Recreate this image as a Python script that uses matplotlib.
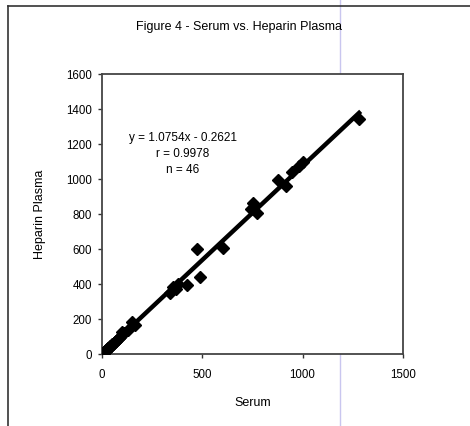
import matplotlib
matplotlib.use("Agg")
import matplotlib.pyplot as plt
from matplotlib.lines import Line2D
import numpy as np

plt.rcParams["font.family"] = ["Liberation Sans", "DejaVu Sans"]

# Serum vs heparin plasma values
serum = [0, 3, 5, 8, 10, 12, 15, 18, 20, 25, 28, 32, 35, 40, 45, 50,
         55, 60, 65, 70, 80, 90, 98, 110, 130, 148, 163,
         339, 355, 370, 380, 422, 472, 488, 605,
         744, 754, 771, 879, 917, 950, 983, 1003, 1282, 30, 85]
plasma = [0, 4, 6, 8, 12, 14, 16, 20, 22, 27, 30, 35, 37, 43, 48, 55,
          60, 64, 70, 76, 85, 97, 128, 118, 140, 185, 165,
          347, 385, 370, 400, 394, 598, 442, 604,
          830, 861, 804, 994, 960, 1040, 1074, 1099, 1341, 32, 90]
slope, intercept = 1.0754, -0.2621

fig = plt.figure(figsize=(4.7, 4.26), dpi=100)
ax = fig.add_axes([0.217, 0.169, 0.640, 0.657])

ax.plot(serum, plasma, linestyle="none", marker="D", markersize=6.5,
        color="black", zorder=3)
xs = np.array([0, max(serum)])
ax.plot(xs, slope * xs + intercept, color="black", lw=3.2, zorder=4)

ax.set_xlim(0, 1500)
ax.set_ylim(0, 1600)
ax.set_xticks([0, 500, 1000, 1500])
ax.set_yticks(range(0, 1601, 200))
ax.tick_params(direction="out", length=3, width=1, labelsize=8.3,
               color="#333333")
ax.tick_params(axis="x", pad=8)
ax.tick_params(axis="y", pad=4)
for s in ax.spines.values():
    s.set_linewidth(1.3)
    s.set_color("#444444")

ax.set_xlabel("Serum", fontsize=9, labelpad=11)
ax.set_ylabel("Heparin Plasma", fontsize=9, labelpad=15)
fig.text(0.509, 0.936, "Figure 4 - Serum vs. Heparin Plasma", fontsize=9,
         ha="center", va="center")

ax.text(0.269, 0.714, "y = 1.0754x - 0.2621\nr = 0.9978\nn = 46",
        transform=ax.transAxes, ha="center", va="center", fontsize=8.5,
        linespacing=1.45)

# outer frame (open on the right and bottom like the scan)
fig.add_artist(Line2D([8 / 470, 8 / 470], [0, 1 - 6 / 426],
                      transform=fig.transFigure, color="#333333", lw=1.2))
fig.add_artist(Line2D([8 / 470, 1], [1 - 6 / 426, 1 - 6 / 426],
                      transform=fig.transFigure, color="#333333", lw=1.2))
# faint scanner streak
fig.add_artist(Line2D([340 / 470, 340 / 470], [0, 1],
                      transform=fig.transFigure, color="#c9c6ef", lw=1.0,
                      zorder=0))

fig.savefig("out.png", dpi=100)
